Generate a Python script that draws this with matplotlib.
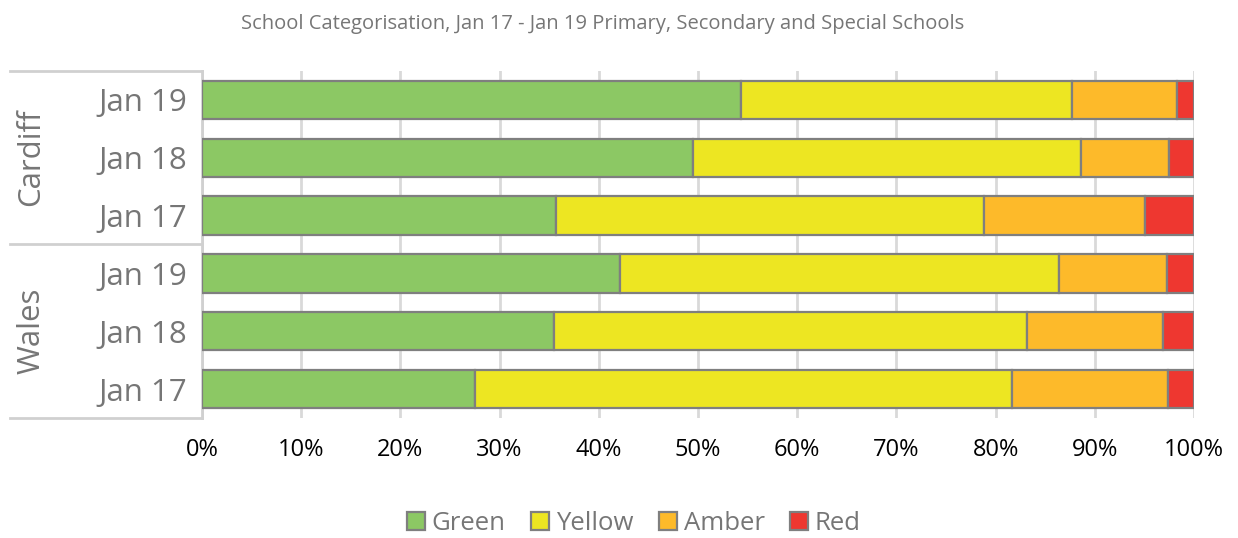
import matplotlib
matplotlib.use("Agg")
import matplotlib.pyplot as plt
from matplotlib.patches import Patch
from matplotlib.lines import Line2D

plt.rcParams['font.family'] = ['Open Sans', 'DejaVu Sans']

title = "School Categorisation, Jan 17 - Jan 19 Primary, Secondary and Special Schools"
groups = ["Cardiff", "Wales"]
periods = ["Jan 19", "Jan 18", "Jan 17"]
series = ["Green", "Yellow", "Amber", "Red"]
colors = ["#8CC864", "#EDE622", "#FDBA2A", "#EE3730"]

# rows top to bottom: Cardiff Jan19, Jan18, Jan17, Wales Jan19, Jan18, Jan17 (percent)
green = [54.3, 49.5, 35.7, 42.1, 35.5, 27.5]
yellow = [33.4, 39.1, 43.1, 44.3, 47.7, 54.2]
amber = [10.6, 8.9, 16.3, 10.9, 13.7, 15.7]
red = [1.7, 2.5, 4.9, 2.7, 3.1, 2.6]
values = [green, yellow, amber, red]

fig = plt.figure(figsize=(12.38, 5.38), dpi=100)
ax = fig.add_axes([202/1238, 1 - 418/538, (1194-202)/1238, (418-71)/538])

n = len(green)
ypos = list(range(n))
left = [0.0] * n
for vals, col, name in zip(values, colors, series):
    ax.barh(ypos, vals, left=left, height=0.66, color=col, edgecolor="#7F7F7F",
            linewidth=1.6, label=name, zorder=3)
    left = [l + v for l, v in zip(left, vals)]

ax.set_xlim(0, 100)
ax.set_ylim(n - 0.5, -0.5)
ax.set_xticks(range(0, 101, 10))
ax.set_xticklabels([f"{v}%" for v in range(0, 101, 10)], fontsize=17, color="#000000")
ax.set_yticks(ypos)
ax.set_yticklabels(periods * 2, fontsize=22.5, color="#767676")
ax.tick_params(axis='both', length=0)
ax.tick_params(axis='y', pad=11)
ax.tick_params(axis='x', pad=14.5)
ax.grid(axis='x', color="#D9D9D9", linewidth=2, zorder=0)
for s in ["top", "right", "bottom"]:
    ax.spines[s].set_visible(False)
ax.spines["left"].set_color("#D0D0D0")
ax.spines["left"].set_linewidth(2)

# group separators and labels
for yv in [-0.5, 2.5, 5.5]:
    ax.add_line(Line2D([-19.4, 0], [yv, yv], transform=ax.transData, color="#D0D0D0",
                       linewidth=2, clip_on=False))
for i, g in enumerate(groups):
    ax.text(-17.2, 1 + 3 * i, g, rotation=90, ha='center', va='center',
            fontsize=22.5, color="#767676")

fig.text(603/1238, 1 - 24/538, title, ha='center', va='center', fontsize=14.5, color="#767676")

handles = [Patch(facecolor=c, edgecolor="#7F7F7F", linewidth=1.6, label=s)
           for c, s in zip(colors, series)]
leg = fig.legend(handles=handles, loc='center', bbox_to_anchor=(634/1238, 1 - 523/538),
                 ncol=4, frameon=False, fontsize=18.5, handlelength=0.7, handleheight=0.7,
                 handletextpad=0.25, columnspacing=1.0)
for t in leg.get_texts():
    t.set_color("#767676")

fig.savefig("out.png", dpi=100)
